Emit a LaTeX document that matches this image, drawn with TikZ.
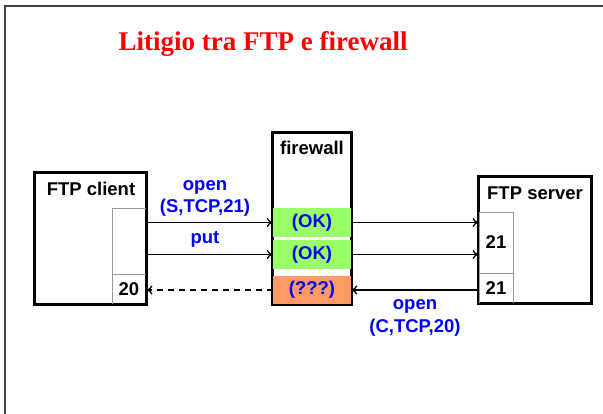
\documentclass[tikz,border=0pt]{standalone}
\usepackage{fontspec}
\setmainfont{Liberation Sans}
\newfontfamily\titlefont{Liberation Serif}
\usetikzlibrary{arrows.meta}
\definecolor{lblue}{RGB}{0,0,255}
\definecolor{fwgreen}{RGB}{153,255,102}
\definecolor{fworange}{RGB}{255,153,102}
\definecolor{framegray}{RGB}{64,64,64}
\begin{document}
\begin{tikzpicture}[x=1pt,y=-1pt,
  box/.style={draw=black,line width=1.6pt,fill=white,inner sep=0pt,anchor=center},
  portbox/.style={draw=gray!80,line width=0.8pt,inner sep=0pt,anchor=center,minimum width=34pt},
  boxtitle/.style={font=\fontsize{18.5}{20}\selectfont\bfseries,text=black,inner sep=0pt},
  porttext/.style={font=\fontsize{18.5}{20}\selectfont\bfseries,text=black},
  lbl/.style={font=\fontsize{18.5}{22.5}\selectfont\bfseries,text=lblue,align=center,inner sep=0pt},
  cell/.style={inner sep=0pt,anchor=center,minimum width=78pt,font=\fontsize{18.5}{20}\selectfont\bfseries,text=lblue},
  arr/.style={line width=1.3pt,-{To[length=6pt,width=9pt]}}
]
\useasboundingbox (0,0) rectangle (603,414);
\fill[white] (0,0) rectangle (603,414);
\draw[framegray,line width=1.8pt] (5,414) -- (5,6) -- (603,6);

\node[font=\titlefont\fontsize{27}{30}\selectfont\bfseries,text=red] (title) at (263,44) {Litigio tra FTP e firewall};

% client
\node[box,minimum width=111pt,minimum height=131pt] (client) at (90.5,238.5) {};
\node[portbox,minimum height=66pt] (cup) at (129,241) {};
\node[portbox,minimum height=30pt] (c20) at (129,289) {};
\node[porttext] at (c20) {20};
\draw[line width=1.6pt] (client.north west) rectangle (client.south east);
\node[boxtitle] (ctitle) at (91,189) {FTP client};

% firewall
\node[box,minimum width=78pt,minimum height=171pt] (fw) at (312,218.5) {};
\node[cell,fill=fwgreen,minimum height=29pt] (g1) at (312,222.5) {(OK)};
\node[cell,fill=fwgreen,minimum height=29pt] (g2) at (312,254.5) {(OK)};
\node[cell,fill=fworange,minimum height=28pt] (or) at (312,290) {(???)};
\draw[line width=1.6pt] (fw.north west) rectangle (fw.south east);
\node[boxtitle] (fwtitle) at (312,148) {firewall};

% server
\node[box,minimum width=112pt,minimum height=126pt] (server) at (535,240) {};
\node[portbox,minimum height=61pt] (sup) at (496,242.5) {};
\node[porttext] at (sup) {21};
\node[portbox,minimum height=30pt] (s21) at (496,288) {};
\node[porttext] at (s21) {21};
\draw[line width=1.6pt] (server.north west) rectangle (server.south east);
\node[boxtitle] (stitle) at (535,193) {FTP server};

% connectors
\draw[arr] (cup.east |- g1.west) -- (g1.west);
\draw[arr] (cup.east |- g2.west) -- (g2.west);
\draw[arr] (g1.east) -- (sup.west |- g1.east);
\draw[arr] (g2.east) -- (sup.west |- g2.east);
\draw[arr] (s21.west |- or.east) -- (or.east);
\draw[arr,dash pattern=on 6pt off 5pt] (or.west) -- (c20.east |- or.west);

% labels
\node[lbl] (l1) at (205,198.5) {open\\(S,TCP,21)};
\node[lbl] (l2) at (205,239) {put};
\node[lbl] (l3) at (415,318) {open\\(C,TCP,20)};
\end{tikzpicture}
\end{document}
